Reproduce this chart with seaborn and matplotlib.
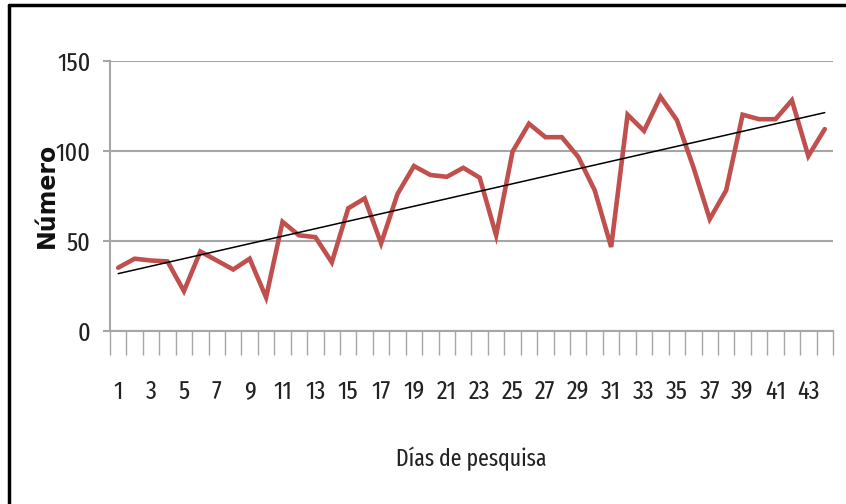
import matplotlib
matplotlib.use("Agg")
import matplotlib.pyplot as plt
from matplotlib.lines import Line2D
from matplotlib import font_manager as fm
import seaborn as sns
import numpy as np
import pandas as pd

days = list(range(1, 45))
counts = [35, 40, 39, 38.5, 22, 44, 39, 34, 40, 18.5,
          60.5, 53, 52, 38, 68, 73.5, 48.5, 76, 91.5, 86.5,
          85.5, 90.5, 85, 53, 99.5, 115, 107.5, 107.5, 96.5, 78,
          46.5, 120, 111, 130, 117, 91, 62, 78, 120, 117.5,
          117.5, 128, 97, 112]
y_ticks = [0, 50, 100, 150]
x_labels = [str(d) for d in range(1, 45, 2)]

df = pd.DataFrame({"dia": days, "numero": counts})

sns.set_theme(style="white")
plt.rcParams["font.family"] = ["Liberation Sans", "DejaVu Sans"]


def pick_narrow_font():
    best = None
    best_rank = 99
    for f in fm.fontManager.ttflist:
        name = f.name.lower()
        fname = f.fname.lower()
        if f.style != "normal" or f.weight not in (400, "normal", "regular", 500):
            continue
        if "mono" in name or "serif" in name and "sans" not in name:
            continue
        rank = None
        if "extracondensed" in fname or "extra condensed" in name or f.stretch == "extra-condensed":
            rank = 0
        elif "semicondensed" in fname or f.stretch == "semi-condensed":
            rank = 2
        elif "condensed" in fname or "condensed" in name or f.stretch == "condensed":
            rank = 1
        elif "narrow" in fname or "narrow" in name:
            rank = 1
        if rank is not None and "bold" not in fname and "italic" not in fname \
                and "light" not in fname and "thin" not in fname and "black" not in fname \
                and "medium" not in fname and "semibold" not in fname:
            if rank < best_rank:
                best_rank = rank
                best = f.fname
    if best:
        return fm.FontProperties(fname=best), best_rank
    return fm.FontProperties(family=["Liberation Sans", "DejaVu Sans"]), 9


narrow_fp, narrow_rank = pick_narrow_font()
tick_size = 19 if narrow_rank <= 2 else 16
xlabel_size = 17 if narrow_rank <= 2 else 15

fig = plt.figure(figsize=(8.46, 5.04), dpi=100)
ax = fig.add_axes([0.130, 0.3438, 0.8546, 0.5358])

sns.lineplot(data=df, x="dia", y="numero", ax=ax, color="#c0504d",
             linewidth=3.3, solid_joinstyle="miter", zorder=3)
sns.regplot(data=df, x="dia", y="numero", ax=ax, scatter=False, ci=None,
            color="black", line_kws={"linewidth": 1.1, "zorder": 4})

ax.set_xlim(0.5, 44.5)
ax.set_ylim(0, 150)
ax.set_yticks(y_ticks)
ax.set_yticklabels([str(v) for v in y_ticks])
ax.yaxis.grid(True, color="#a6a6a6", linewidth=1.5)
ax.set_axisbelow(True)

ax.set_xticks(range(1, 45, 2))
ax.set_xticklabels(x_labels)
ax.set_xticks(np.arange(0.5, 45, 1), minor=True)
ax.tick_params(axis="x", which="major", length=0, pad=35, colors="#222222")
ax.tick_params(axis="x", which="minor", length=17, width=1, color="#a6a6a6", direction="out", bottom=True)
ax.tick_params(axis="y", which="major", length=5, width=1.5, color="#a6a6a6", direction="out",
               left=True, pad=9, colors="#222222")
for lab in ax.get_xticklabels() + ax.get_yticklabels():
    lab.set_fontproperties(narrow_fp)
    lab.set_fontsize(tick_size)

for s in ["top", "right"]:
    ax.spines[s].set_visible(False)
for s in ["left", "bottom"]:
    ax.spines[s].set_color("#a6a6a6")
    ax.spines[s].set_linewidth(1.5)

ax.set_xlabel("Días de pesquisa", color="#222222")
ax.xaxis.label.set_fontproperties(narrow_fp)
ax.xaxis.label.set_fontsize(xlabel_size)
ax.xaxis.set_label_coords(0.5, -0.43)
ax.xaxis.label.set_va("top")

ax.set_ylabel("Número", fontsize=17, fontweight="bold", color="#111111",
              family=["DejaVu Sans"])
ax.yaxis.set_label_coords(-0.071, 0.5)

# frame lines (left and top edges of the image)
fig.add_artist(Line2D([0.0112, 0.0112], [0, 0.99], transform=fig.transFigure, color="black", linewidth=2.5))
fig.add_artist(Line2D([0.0112, 1.0], [0.99, 0.99], transform=fig.transFigure, color="black", linewidth=2.5))

fig.savefig("out.png", dpi=100)
